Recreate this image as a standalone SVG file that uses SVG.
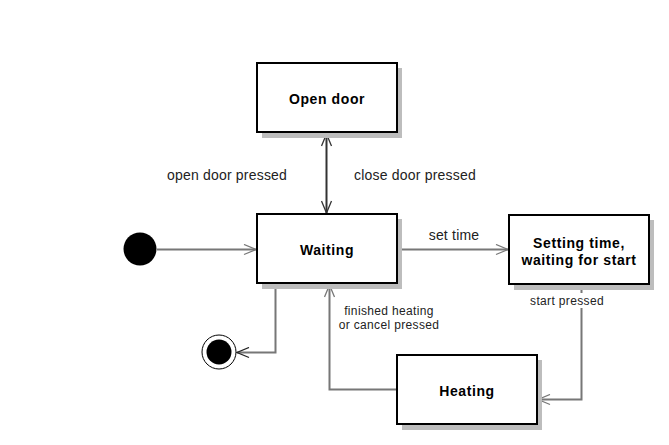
<svg xmlns="http://www.w3.org/2000/svg" width="669" height="445" viewBox="0 0 669 445">
<defs>
<marker id="arrG" markerWidth="14" markerHeight="12" refX="13" refY="6" orient="auto" markerUnits="userSpaceOnUse">
<path d="M1,1 L13,6 L1,11" fill="none" stroke="#777" stroke-width="1.3"/>
</marker>
<marker id="arrD" markerWidth="14" markerHeight="12" refX="13" refY="6" orient="auto-start-reverse" markerUnits="userSpaceOnUse">
<path d="M1,1 L13,6 L1,11" fill="none" stroke="#333" stroke-width="1.3"/>
</marker>
<marker id="arrK" markerWidth="14" markerHeight="12" refX="13" refY="6" orient="auto" markerUnits="userSpaceOnUse">
<path d="M1,1 L13,6 L1,11" fill="none" stroke="#222" stroke-width="1.3"/>
</marker>
</defs>
<style>
.shadow{fill:#bdbdbd;}
.box{fill:#fff;stroke:#000;stroke-width:2;}
.title{font-family:"Liberation Sans",Arial,sans-serif;font-size:14px;font-weight:bold;letter-spacing:0.6px;fill:#000;text-anchor:middle;}
.lbl{font-family:"Liberation Sans",Arial,sans-serif;font-size:14px;letter-spacing:0.2px;fill:#222;text-anchor:middle;}
.sm{font-family:"Liberation Sans",Arial,sans-serif;font-size:12px;letter-spacing:0.35px;fill:#222;text-anchor:middle;}
.conn{fill:none;stroke:#777;stroke-width:2;}
</style>
<rect width="669" height="445" fill="#fff"/>
<g id="connectors">
<line x1="326.5" y1="134" x2="326.5" y2="213" stroke="#333" stroke-width="2" marker-start="url(#arrD)" marker-end="url(#arrD)"/>
<line x1="157" y1="249.5" x2="256" y2="249.5" class="conn" marker-end="url(#arrG)"/>
<line x1="398" y1="249.5" x2="508" y2="249.5" class="conn" marker-end="url(#arrG)"/>
<polyline points="581.5,285 581.5,399.5 538,399.5" class="conn" marker-end="url(#arrG)"/>
<polyline points="396,389.5 329.5,389.5 329.5,285" class="conn" marker-end="url(#arrG)"/>
<polyline points="275.5,284 275.5,352.5 237,352.5" class="conn" stroke="#555" marker-end="url(#arrK)"/>
<text x="227" y="180" class="lbl">open door pressed</text>
<text x="415" y="180" class="lbl">close door pressed</text>
<text x="454" y="240" class="lbl">set time</text>
<rect x="528" y="293" width="80" height="15" fill="#fff"/>
<text x="567" y="305" class="sm">start pressed</text>
<text x="389" y="315" class="sm">finished heating</text>
<text x="389" y="329" class="sm">or cancel pressed</text>
</g>
<g id="initial">
<circle cx="140" cy="249" r="16.5" fill="#000"/>
</g>
<g id="final">
<circle cx="219" cy="352" r="17" fill="#fff" stroke="#000" stroke-width="1"/>
<circle cx="219" cy="352" r="12.5" fill="#000"/>
</g>
<g id="open-door">
<rect x="262" y="68" width="140" height="70" class="shadow"/>
<rect x="257" y="63" width="140" height="69" class="box"/>
<text x="327" y="104" class="title">Open door</text>
</g>
<g id="waiting">
<rect x="262" y="219" width="140" height="70" class="shadow"/>
<rect x="257" y="214" width="140" height="69" class="box"/>
<text x="327" y="255" class="title">Waiting</text>
</g>
<g id="setting">
<rect x="514" y="220" width="140" height="70" class="shadow"/>
<rect x="509" y="215" width="140" height="69" class="box"/>
<text x="579" y="248" class="title">Setting time,</text>
<text x="579" y="265" class="title">waiting for start</text>
</g>
<g id="heating">
<rect x="402" y="360" width="140" height="70" class="shadow"/>
<rect x="397" y="355" width="140" height="69" class="box"/>
<text x="467" y="396" class="title">Heating</text>
</g>
</svg>
